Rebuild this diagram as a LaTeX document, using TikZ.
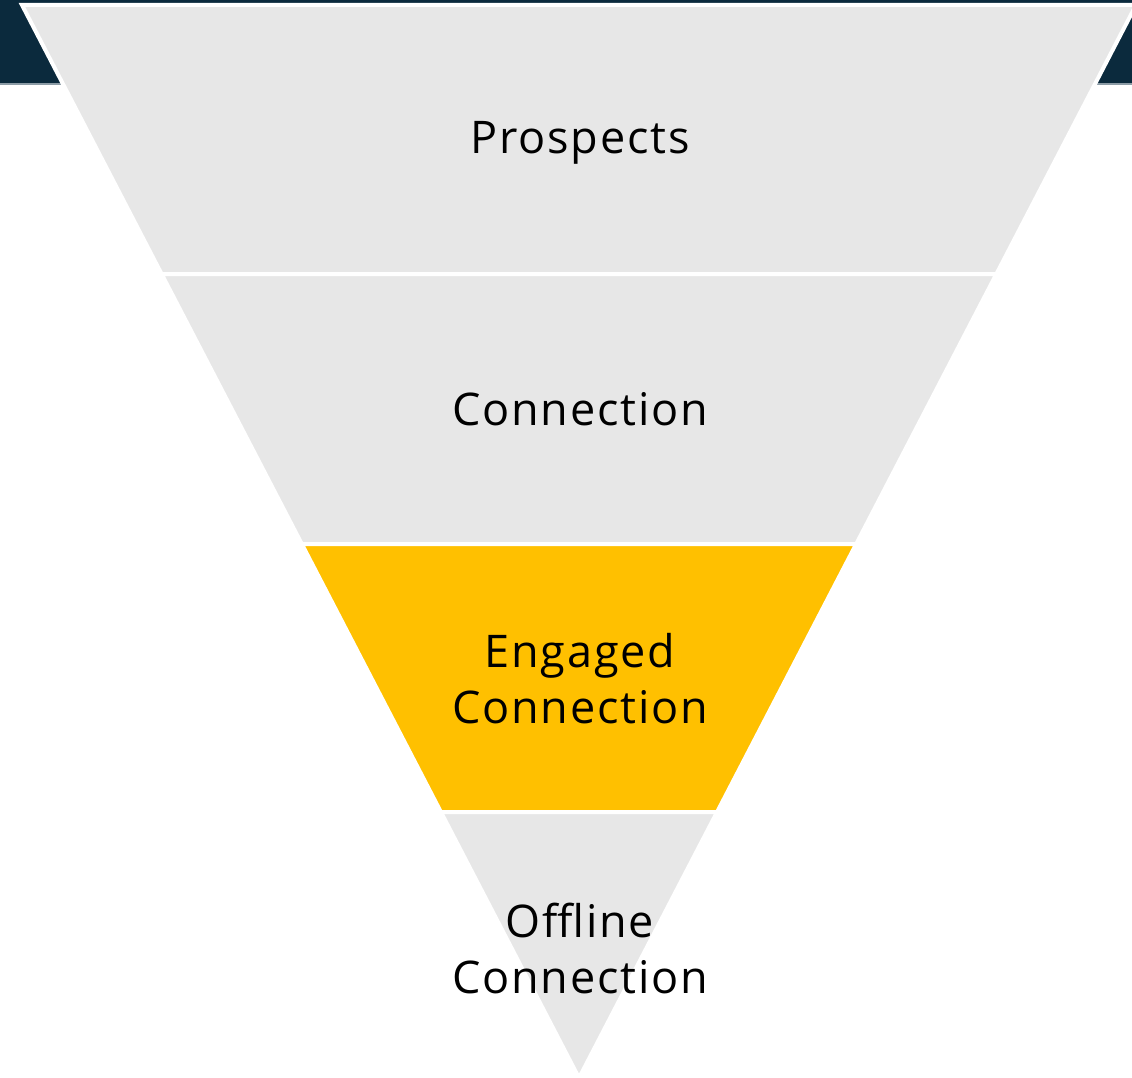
\documentclass[tikz,border=0pt]{standalone}
\usepackage{fontspec}
\setmainfont{Open Sans}[LetterSpace=4]
\definecolor{navy}{HTML}{0B2A3D}
\definecolor{seggrey}{HTML}{E7E7E7}
\definecolor{segyellow}{HTML}{FFC000}
\definecolor{shadowgrey}{HTML}{8C9CA6}
\begin{document}
\begin{tikzpicture}[x=1pt,y=-1pt,
  seg/.style={draw=white,line width=4pt,line join=miter},
  lbl/.style={font=\fontsize{45}{56}\selectfont,align=center,text=black,inner sep=0pt}]
\useasboundingbox (0,0) rectangle (1132,1078);
\clip (0,0) rectangle (1132,1078);
% dark header band
\fill[navy] (0,0) rectangle (1132,83);
\fill[shadowgrey] (0,83) rectangle (1132,85);
% funnel segments
\filldraw[seg,fill=seggrey] (22,5) -- (1136,5) -- (996.4,274) -- (161.6,274) -- cycle;
\filldraw[seg,fill=seggrey] (161.6,274) -- (996.4,274) -- (856.2,544) -- (301.8,544) -- cycle;
\filldraw[seg,fill=segyellow] (301.8,544) -- (856.2,544) -- (717.1,812) -- (440.9,812) -- cycle;
\filldraw[seg,fill=seggrey] (440.9,812) -- (717.1,812) -- (579,1078) -- cycle;
% labels
\node[lbl] (p) at (580,143) {Prospects};
\node[lbl] (c) at (580,409) {Connection};
\node[lbl] (e) at (580,679) {Engaged\\Connection};
\node[lbl] (o) at (580,948) {Offline\\Connection};
\end{tikzpicture}
\end{document}
